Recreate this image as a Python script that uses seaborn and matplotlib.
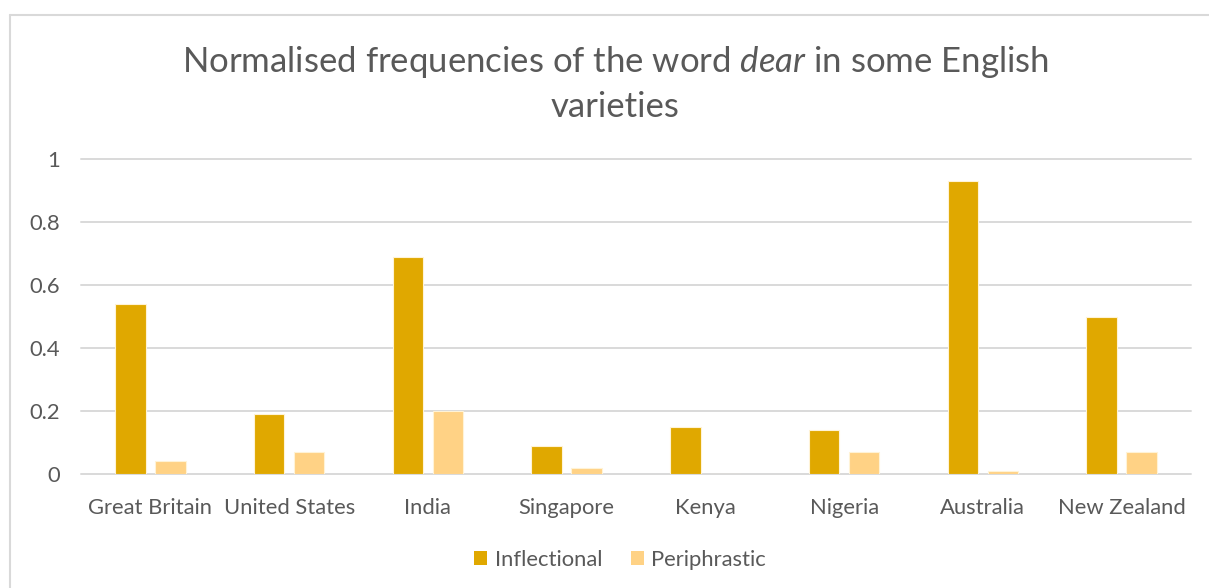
import matplotlib
matplotlib.use("Agg")
import matplotlib.pyplot as plt
from matplotlib.lines import Line2D
from matplotlib.patches import Patch
import seaborn as sns
import pandas as pd

# Data
countries = ["Great Britain", "United States", "India", "Singapore",
             "Kenya", "Nigeria", "Australia", "New Zealand"]
inflectional = [0.54, 0.19, 0.69, 0.09, 0.15, 0.14, 0.93, 0.50]
periphrastic = [0.04, 0.07, 0.20, 0.02, 0.00, 0.07, 0.01, 0.07]
series_names = ["Inflectional", "Periphrastic"]
y_ticks = [0, 0.2, 0.4, 0.6, 0.8, 1]
y_tick_labels = ["0", "0.2", "0.4", "0.6", "0.8", "1"]

df = pd.DataFrame({
    "Country": countries * 2,
    "Form": [series_names[0]] * len(countries) + [series_names[1]] * len(countries),
    "Value": inflectional + periphrastic,
})

sns.set_theme(style="white")
plt.rcParams["font.family"] = ["Lato", "DejaVu Sans"]
plt.rcParams["mathtext.fontset"] = "custom"
plt.rcParams["mathtext.rm"] = "Lato"
plt.rcParams["mathtext.it"] = "Lato:italic"

TEXT = "#595959"
GRID = "#D9D9D9"
palette = {"Inflectional": "#E0A800", "Periphrastic": "#FFD285"}
LABEL_SIZE = 15.8

W, H = 1209, 588
fig = plt.figure(figsize=(W / 100, H / 100), dpi=100)
fig.patch.set_facecolor("white")
ax = fig.add_axes([81 / W, 1 - 474 / H, (1191 - 81) / W, (474 - 159) / H])

sns.barplot(data=df, x="Country", y="Value", hue="Form", order=countries,
            hue_order=series_names, palette=palette, width=0.577, gap=0.24,
            saturation=1, edgecolor="#FFF3D6", linewidth=0.8, legend=False, ax=ax)

ax.set_ylim(0, 1)
ax.set_xlim(-0.5, len(countries) - 0.5)
ax.set_yticks(y_ticks)
ax.set_yticklabels(y_tick_labels)
for y in y_ticks:
    ax.axhline(y, color=GRID, lw=1.4, zorder=0, clip_on=False)
for s in ax.spines.values():
    s.set_visible(False)
ax.set_xlabel("")
ax.set_ylabel("")
ax.tick_params(axis="y", length=0, pad=15, labelsize=LABEL_SIZE, labelcolor=TEXT)
ax.tick_params(axis="x", length=0, pad=17, labelsize=LABEL_SIZE, labelcolor=TEXT)

# Title
fig.text(615 / W, 1 - 62 / H,
         r"Normalised frequencies of the word $\mathit{dear}$ in some English",
         ha="center", va="center", fontsize=25, color=TEXT)
fig.text(615 / W, 1 - 107 / H, "varieties",
         ha="center", va="center", fontsize=25, color=TEXT)

# Legend
handles = [Patch(facecolor=palette[n], edgecolor="none", label=n) for n in series_names]
fig.legend(handles=handles, loc="center", bbox_to_anchor=(620 / W, 1 - 560 / H),
           ncol=2, frameon=False, handlelength=0.6, handleheight=0.6,
           handletextpad=0.35, columnspacing=1.3, fontsize=LABEL_SIZE, labelcolor=TEXT)

# Chart-area frame
fig.add_artist(Line2D([10 / W, 10 / W], [0, 1 - 15 / H], transform=fig.transFigure,
                      color=GRID, lw=1.5))
fig.add_artist(Line2D([10 / W, 1], [1 - 15 / H, 1 - 15 / H], transform=fig.transFigure,
                      color=GRID, lw=1.5))

fig.savefig("out.png", dpi=100)
